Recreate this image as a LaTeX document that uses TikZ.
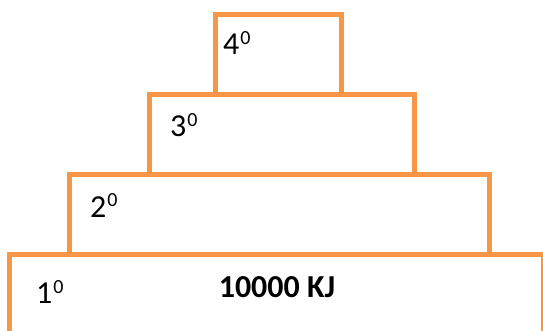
\documentclass[tikz,border=0pt]{standalone}
\usepackage{fontspec}
\setmainfont{Carlito}
\definecolor{boxorange}{HTML}{F79646}
\begin{document}
\begin{tikzpicture}[x=1pt,y=-1pt,
  tier/.style={draw=boxorange,line width=5pt,fill=white},
  lbl/.style={anchor=base west,inner sep=0pt,font=\fontsize{32}{36}\selectfont},
  sup/.style={anchor=base west,inner sep=0pt,font=\fontsize{20}{24}\selectfont}]
\useasboundingbox (0,0) rectangle (543,331);
% tiers
\draw[tier] (9.5,254.5) rectangle (543.5,340);
\draw[tier] (69.5,174.5) rectangle (489.5,254.5);
\draw[tier] (149.5,94.5) rectangle (414,174.5);
\draw[tier] (215.5,14.5) rectangle (341.5,94.5);
\draw[draw=boxorange,line width=5pt] (9.5,254.5) -- (543.5,254.5);
\draw[draw=boxorange,line width=5pt] (69.5,174.5) -- (489.5,174.5);
\draw[draw=boxorange,line width=5pt] (149.5,94.5) -- (414,94.5);
% labels
\node[lbl] (l4) at (223,55) {4};
\node[sup] (s4) at ([xshift=0.5pt,yshift=10pt]l4.base east) {0};
\node[lbl] (l3) at (170,137) {3};
\node[sup] (s3) at ([xshift=0.5pt,yshift=10pt]l3.base east) {0};
\node[lbl] (l2) at (90,217) {2};
\node[sup] (s2) at ([xshift=0.5pt,yshift=10pt]l2.base east) {0};
\node[lbl] (l1) at (36,303) {1};
\node[sup] (s1) at ([xshift=0.5pt,yshift=10pt]l1.base east) {0};
\node[lbl,font=\fontsize{32}{36}\selectfont\bfseries,anchor=base] (kj) at (277,297) {10000 KJ};
\end{tikzpicture}
\end{document}
